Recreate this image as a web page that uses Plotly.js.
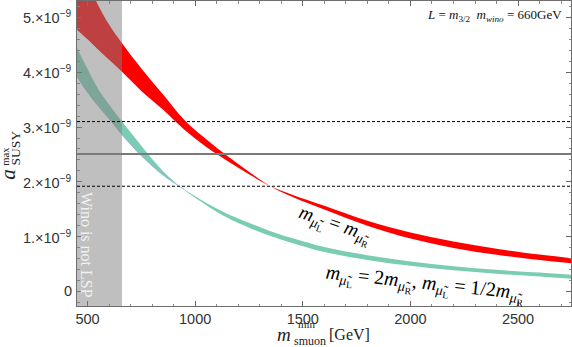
<!DOCTYPE html>
<html><head><meta charset="utf-8">
<script src="https://cdn.plot.ly/plotly-3.0.1.min.js"></script>
<style>html,body{margin:0;padding:0;background:#fff}#chart{width:572px;height:347px}</style>
</head><body><div id="chart"></div>
<script>
// smuon mass grid [GeV]
const mass = [450,500,550,600,660,750,850,950,1050,1150,1250,1350,1450,1600,1800,2000,2200,2400,2600,2750];
// band edges, in units of 1e-9
const redEdgeA  = [6.00,5.62,5.22,4.87,4.53,4.07,3.60,3.13,2.78,2.47,2.185,1.92,1.727,1.495,1.20,0.965,0.795,0.67,0.573,0.515];
const redEdgeB  = [4.78,4.60,4.41,4.23,4.01,3.66,3.32,2.95,2.64,2.38,2.14,1.92,1.767,1.565,1.29,1.075,0.91,0.78,0.673,0.605];
const tealEdgeA = [4.45,4.06,3.69,3.41,3.10,2.66,2.20,1.85,1.58,1.345,1.165,1.01,0.885,0.72,0.575,0.468,0.386,0.323,0.274,0.233];
const tealEdgeB = [3.93,3.63,3.38,3.15,2.86,2.475,2.125,1.86,1.62,1.415,1.255,1.10,0.975,0.81,0.66,0.548,0.462,0.395,0.344,0.303];
const winoLimit = 660;
const aMuCentral = 2.51, aMuUpper = 3.10, aMuLower = 1.92;
const xTickVals = [500,1000,1500,2000,2500];
const xTickText = ['500','1000','1500','2000','2500'];
const yTickVals = [0,1,2,3,4,5];
const yTickText = ['0','1.×10<sup>−9</sup>','2.×10<sup>−9</sup>','3.×10<sup>−9</sup>','4.×10<sup>−9</sup>','5.×10<sup>−9</sup>'];

const RED = 'rgb(255,0,0)';
const TEAL = 'rgb(122,205,178)';
const SERIF = 'Liberation Serif, Times New Roman, serif';
const SANS = 'Liberation Sans, Arial, sans-serif';

function band(lo, hi, color) {
  return [
    {x: mass, y: lo, mode:'lines', line:{width:0, color:color, shape:'spline', smoothing:1}, hoverinfo:'skip'},
    {x: mass, y: hi, mode:'lines', line:{width:0, color:color, shape:'spline', smoothing:1}, fill:'tonexty', fillcolor:color, hoverinfo:'skip'}
  ];
}
const traces = [...band(redEdgeA, redEdgeB, RED), ...band(tealEdgeA, tealEdgeB, TEAL)];
// faint bluish rim of the overlapping second teal band (low-mass part)
traces.push({x: mass.slice(0, 8), y: tealEdgeB.slice(0, 8), mode:'lines',
  line:{width:1, color:'rgba(150,160,225,0.65)', shape:'spline', smoothing:1}, hoverinfo:'skip'});

function hline(y, color, width, dash) {
  return {type:'line', xref:'paper', x0:0, x1:1, yref:'y', y0:y, y1:y, layer:'above', line:{color:color, width:width, dash:dash}};
}
const shapes = [
  {type:'rect', xref:'x', x0:440, x1:winoLimit, yref:'paper', y0:0, y1:1, fillcolor:'rgba(128,128,128,0.5)', line:{width:0}, layer:'above'},
  hline(aMuUpper, '#000', 1, '3px,2px'),
  hline(aMuCentral, '#7a7a7a', 2, 'solid'),
  hline(aMuLower, '#000', 1, '3px,2px')
];

const MU = '<i>μ̃</i>';
const ann = (o) => Object.assign({showarrow:false, xref:'paper', yref:'paper', borderpad:0}, o);
const annotations = [
  ann({x:0.9838, y:0.954, xanchor:'right', yanchor:'middle', text:'<i>L</i> = <i>m</i><sub>3/2</sub>  <i>m<sub>wino</sub></i> = 660GeV', font:{family:SERIF, size:13, color:'#111'}}),
  ann({x:0.0202, y:0.20, xanchor:'center', yanchor:'middle', textangle:90, text:'Wino is not LSP', font:{family:SERIF, size:16, color:'#f0f0f0'}}),
  ann({x:0.523, y:0.262, xanchor:'center', yanchor:'middle', textangle:19, text:'<i>m</i><sub>'+MU+'<sub>L</sub></sub> = <i>m</i><sub>'+MU+'<sub>R</sub></sub>', font:{family:SERIF, size:19.5, color:'#000'}}),
  ann({x:0.7045, y:0.069, xanchor:'center', yanchor:'middle', textangle:6, text:'<i>m</i><sub>'+MU+'<sub>L</sub></sub> = 2<i>m</i><sub>'+MU+'<sub>R</sub></sub>, <i>m</i><sub>'+MU+'<sub>L</sub></sub> = 1/2<i>m</i><sub>'+MU+'<sub>R</sub></sub>', font:{family:SERIF, size:20, color:'#000'}}),
  // x title
  ann({x:0.419, y:-0.092, xanchor:'center', yanchor:'middle', text:'<i>m</i>', font:{family:SERIF, size:19, color:'#222'}}),
  ann({x:0.446, y:-0.060, xanchor:'left', yanchor:'middle', text:'min', font:{family:SERIF, size:11, color:'#222'}}),
  ann({x:0.437, y:-0.115, xanchor:'left', yanchor:'middle', text:'smuon', font:{family:SERIF, size:12, color:'#222'}}),
  ann({x:0.552, y:-0.095, xanchor:'center', yanchor:'middle', text:'[GeV]', font:{family:SERIF, size:16, color:'#222'}}),
  // y title
  ann({x:-0.1386, y:0.432, xanchor:'center', yanchor:'middle', textangle:-90, text:'<i>a</i>', font:{family:SERIF, size:21, color:'#222'}}),
  ann({x:-0.1440, y:0.458, xanchor:'center', yanchor:'bottom', textangle:-90, text:'max', font:{family:SERIF, size:10.5, color:'#222'}}),
  ann({x:-0.1240, y:0.458, xanchor:'center', yanchor:'bottom', textangle:-90, text:'SUSY', font:{family:SERIF, size:13.5, color:'#222'}})
];
// y tick labels placed on the y scale
yTickVals.forEach((v, i) => annotations.push({showarrow:false, xref:'paper', yref:'y', x:-0.006, y:v,
  xanchor:'right', yanchor:'middle', text:yTickText[i], font:{family:SANS, size:14.5, color:'#333'}}));

const axisCommon = {
  ticks:'inside', ticklen:5, tickwidth:1, tickcolor:'#666', showline:true, linecolor:'#6e6e6e', linewidth:1,
  mirror:'ticks', showgrid:false, zeroline:false, tickfont:{family:SANS, size:14.5, color:'#333'}
};
const layout = {
  width:572, height:347,
  margin:{l:77, r:1, t:1, b:41, pad:0},
  paper_bgcolor:'#fff', plot_bgcolor:'#fff', showlegend:false,
  xaxis:Object.assign({}, axisCommon, {range:[451,2746], tickmode:'array', tickvals:xTickVals, ticktext:xTickText,
    minor:{tickmode:'linear', tick0:0, dtick:100, ticks:'inside', ticklen:2.5, tickcolor:'#888', showgrid:false}}),
  yaxis:Object.assign({}, axisCommon, {range:[-0.265,5.30], tickmode:'array', tickvals:yTickVals, showticklabels:false,
    minor:{tickmode:'linear', tick0:0, dtick:0.2, ticks:'inside', ticklen:2.5, tickcolor:'#888', showgrid:false}}),
  shapes:shapes, annotations:annotations
};
Plotly.newPlot('chart', traces, layout, {staticPlot:true, displayModeBar:false});
</script></body></html>
